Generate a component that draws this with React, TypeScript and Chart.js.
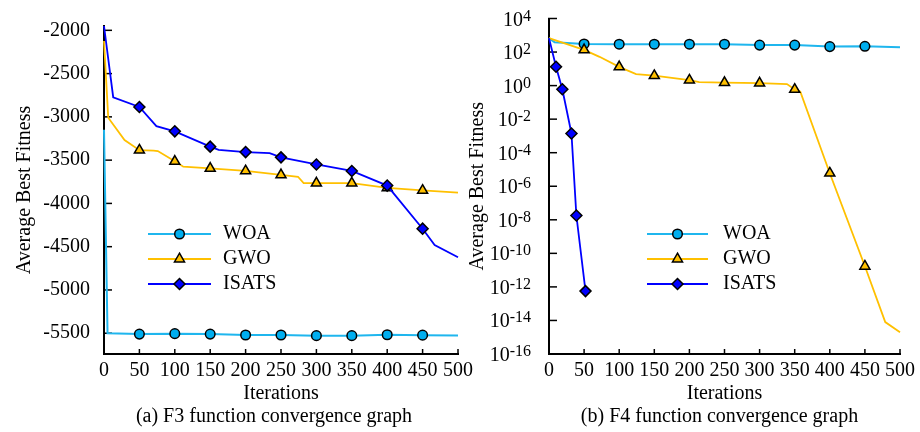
import React, { useEffect, useRef } from "react";
import { Chart, registerables } from "chart.js";

Chart.register(...registerables);

const FONT = "'Liberation Serif', 'Times New Roman', Times, serif";

// ---------- shared ----------
const SERIES = ["WOA", "GWO", "ISATS"];
const X_TICKS = [0, 50, 100, 150, 200, 250, 300, 350, 400, 450, 500];
const MARKER_ITERS = [50, 100, 150, 200, 250, 300, 350, 400, 450];

// ---------- (a) F3 ----------
const F3_Y_TICKS = [-5500, -5000, -4500, -4000, -3500, -3000, -2500, -2000];
const F3_WOA_X = [0, 5, 50, 100, 150, 200, 250, 300, 350, 400, 450, 500];
const F3_WOA_Y = [-3150, -5500, -5510, -5505, -5510, -5520, -5520, -5528, -5528, -5518, -5522, -5525];
const F3_GWO_X = [0, 6, 29, 50, 70, 76, 100, 112, 150, 200, 250, 274, 282, 300, 350, 400, 450, 500];
const F3_GWO_Y = [-2124, -3010, -3268, -3385, -3389, -3395, -3514, -3576, -3595, -3625, -3670, -3692, -3766, -3766, -3766, -3820, -3850, -3876];
const F3_ISATS_X = [0, 13, 50, 74, 100, 150, 162, 200, 234, 250, 300, 350, 400, 450, 467, 500];
const F3_ISATS_Y = [-1950, -2773, -2886, -3107, -3167, -3344, -3381, -3407, -3418, -3468, -3550, -3625, -3794, -4292, -4480, -4622];

// ---------- (b) F4 ----------
const F4_Y_TICK_EXPONENTS = [4, 2, 0, -2, -4, -6, -8, -10, -12, -14, -16];
const F4_WOA_X = [0, 8, 50, 100, 150, 200, 250, 300, 350, 400, 450, 500];
const F4_WOA_Y = [676, 380, 305, 294, 294, 294, 294, 259, 259, 212, 220, 195];
const F4_GWO_X = [0, 50, 72, 100, 124, 150, 200, 214, 250, 300, 339, 350, 358, 400, 450, 479, 500];
const F4_GWO_Y = [676, 135, 52, 13, 4.9, 3.9, 2.1, 1.6, 1.5, 1.4, 1.23, 0.59, 0.43, 6.0e-6, 1.7e-11, 8e-15, 2e-15];
const F4_ISATS_X = [0, 10, 19, 32, 39, 52];
const F4_ISATS_Y = [676, 13.4, 0.61, 1.4e-3, 1.8e-8, 5.6e-13];
const F4_ISATS_MARKERS = [10, 19, 32, 39, 52];

type Style = { line: string; fill: string; shape: string; r: number; width: number; order: number };
const STYLES: Record<string, Style> = {
  WOA: { line: "#1FB6EE", fill: "#00AEEF", shape: "circle", r: 4.8, width: 2, order: 3 },
  GWO: { line: "#FFC000", fill: "#FFC000", shape: "triangle", r: 5.8, width: 1.8, order: 2 },
  ISATS: { line: "#0000FF", fill: "#0000FF", shape: "rectRot", r: 5.5, width: 1.8, order: 1 },
};

function makeDataset(name: string, xs: number[], ys: number[], markers: number[]) {
  const st = STYLES[name];
  const set = new Set(markers);
  return {
    label: name,
    data: xs.map((x, i) => ({ x, y: ys[i] })),
    borderColor: st.line,
    borderWidth: st.width,
    backgroundColor: st.fill,
    pointStyle: st.shape,
    pointRadius: (c: any) => (c.dataIndex !== undefined && set.has(xs[c.dataIndex]) ? st.r : 0),
    pointHoverRadius: 0,
    pointBackgroundColor: st.fill,
    pointBorderColor: "#000",
    pointBorderWidth: 1.5,
    tension: 0,
    order: st.order,
    clip: false as any,
  };
}

function drawMarker(ctx: CanvasRenderingContext2D, shape: string, x: number, y: number, r: number) {
  ctx.beginPath();
  if (shape === "circle") {
    ctx.arc(x, y, r, 0, Math.PI * 2);
  } else if (shape === "triangle") {
    ctx.moveTo(x, y - r);
    ctx.lineTo(x + 0.866 * r, y + 0.5 * r);
    ctx.lineTo(x - 0.866 * r, y + 0.5 * r);
  } else {
    ctx.moveTo(x - r, y);
    ctx.lineTo(x, y - r);
    ctx.lineTo(x + r, y);
    ctx.lineTo(x, y + r);
  }
  ctx.closePath();
  ctx.fill();
  ctx.stroke();
}

const inwardTicks = {
  id: "inwardTicks",
  beforeDatasetsDraw(chart: any) {
    const { ctx, chartArea, scales } = chart;
    ctx.save();
    ctx.strokeStyle = "#000";
    ctx.lineWidth = 1.5;
    scales.y.ticks.forEach((t: any) => {
      const p = scales.y.getPixelForValue(t.value);
      ctx.beginPath();
      ctx.moveTo(chartArea.left - 1, p);
      ctx.lineTo(chartArea.left + 8, p);
      ctx.stroke();
    });
    scales.x.ticks.forEach((t: any) => {
      const p = scales.x.getPixelForValue(t.value);
      ctx.beginPath();
      ctx.moveTo(p, chartArea.bottom + 1);
      ctx.lineTo(p, chartArea.bottom - 5);
      ctx.stroke();
    });
    ctx.restore();
  },
};

const insetLegend = {
  id: "insetLegend",
  afterDatasetsDraw(chart: any, _a: any, opts: any) {
    const { ctx } = chart;
    ctx.save();
    SERIES.forEach((name, i) => {
      const st = STYLES[name];
      const y = opts.y0 + i * opts.dy;
      ctx.strokeStyle = st.line;
      ctx.lineWidth = st.width;
      ctx.beginPath();
      ctx.moveTo(opts.x0, y);
      ctx.lineTo(opts.x1, y);
      ctx.stroke();
      ctx.fillStyle = st.fill;
      ctx.strokeStyle = "#000";
      ctx.lineWidth = 1.5;
      drawMarker(ctx, st.shape, (opts.x0 + opts.x1) / 2, y, st.r);
      ctx.fillStyle = "#000";
      ctx.font = `20px ${FONT}`;
      ctx.textAlign = "left";
      ctx.textBaseline = "middle";
      ctx.fillText(name, opts.textX, y);
    });
    ctx.restore();
  },
};

const caption = {
  id: "caption",
  afterDraw(chart: any, _a: any, opts: any) {
    const { ctx, chartArea } = chart;
    ctx.save();
    ctx.fillStyle = "#000";
    ctx.font = `20px ${FONT}`;
    ctx.textAlign = "center";
    ctx.textBaseline = "middle";
    ctx.fillText(opts.text, (chartArea.left + chartArea.right) / 2 + opts.dx, opts.y);
    ctx.restore();
  },
};

const powerLabels = {
  id: "powerLabels",
  afterDraw(chart: any, _a: any, opts: any) {
    const { ctx, chartArea, scales } = chart;
    if (!opts || !opts.exponents) return;
    ctx.save();
    ctx.fillStyle = "#000";
    ctx.textAlign = "left";
    ctx.textBaseline = "alphabetic";
    const right = chartArea.left - opts.gap;
    opts.exponents.forEach((e: number) => {
      const y = scales.y.getPixelForValue(Math.pow(10, e));
      const sup = String(e);
      ctx.font = `16px ${FONT}`;
      const ws = ctx.measureText(sup).width;
      ctx.font = `20px ${FONT}`;
      const wb = ctx.measureText("10").width;
      const base = y + 7;
      ctx.fillText("10", right - ws - wb, base);
      ctx.font = `16px ${FONT}`;
      ctx.fillText(sup, right - ws, base - 5);
    });
    ctx.restore();
  },
};

function xScale() {
  return {
    type: "linear",
    min: 0,
    max: 500,
    afterBuildTicks: (s: any) => {
      s.ticks = X_TICKS.map((v) => ({ value: v }));
    },
    afterFit: (s: any) => {
      s.height = 78;
    },
    grid: { display: false, drawTicks: false },
    border: { display: true, color: "#000", width: 2 },
    ticks: {
      font: { family: FONT, size: 20 },
      color: "#000",
      padding: 5,
      maxRotation: 0,
      minRotation: 0,
      autoSkip: false,
      callback: (v: any) => String(v),
    },
    title: {
      display: true,
      text: "Iterations",
      color: "#000",
      font: { family: FONT, size: 20, lineHeight: 1 },
      padding: { top: 0, bottom: 28 },
    },
  };
}

export default function App() {
  const ref1 = useRef<HTMLCanvasElement>(null);
  const ref2 = useRef<HTMLCanvasElement>(null);

  useEffect(() => {
    Chart.defaults.font.family = FONT;
    Chart.defaults.color = "#000";

    const c1 = new Chart(ref1.current as HTMLCanvasElement, {
      type: "line",
      data: {
        datasets: [
          makeDataset("WOA", F3_WOA_X, F3_WOA_Y, MARKER_ITERS),
          makeDataset("GWO", F3_GWO_X, F3_GWO_Y, MARKER_ITERS),
          makeDataset("ISATS", F3_ISATS_X, F3_ISATS_Y, MARKER_ITERS),
        ] as any,
      },
      options: {
        animation: false,
        responsive: false,
        maintainAspectRatio: false,
        events: [],
        layout: { padding: { left: 0, right: 462, top: 17, bottom: 0 } },
        scales: {
          x: xScale() as any,
          y: {
            type: "linear",
            min: -5740,
            max: -1950,
            afterBuildTicks: (s: any) => {
              s.ticks = F3_Y_TICKS.map((v) => ({ value: v }));
            },
            afterFit: (s: any) => {
              s.width = 104;
            },
            grid: { display: false, drawTicks: false },
            border: { display: true, color: "#000", width: 2 },
            ticks: {
              font: { family: FONT, size: 20 },
              color: "#000",
              padding: 14,
              callback: (v: any) => String(v),
            },
            title: {
              display: true,
              text: "Average Best Fitness",
              color: "#000",
              font: { family: FONT, size: 20, lineHeight: 1 },
              padding: { top: 15, bottom: 0 },
            },
          } as any,
        },
        plugins: {
          legend: { display: false },
          tooltip: { enabled: false },
          insetLegend: { x0: 148, x1: 211, textX: 223, y0: 234, dy: 25 },
          caption: { text: "(a) F3 function convergence graph", dx: -7, y: 417 },
        } as any,
      },
      plugins: [inwardTicks, insetLegend, caption],
    });

    const c2 = new Chart(ref2.current as HTMLCanvasElement, {
      type: "line",
      data: {
        datasets: [
          makeDataset("WOA", F4_WOA_X, F4_WOA_Y, MARKER_ITERS),
          makeDataset("GWO", F4_GWO_X, F4_GWO_Y, MARKER_ITERS),
          makeDataset("ISATS", F4_ISATS_X, F4_ISATS_Y, F4_ISATS_MARKERS),
        ] as any,
      },
      options: {
        animation: false,
        responsive: false,
        maintainAspectRatio: false,
        events: [],
        layout: { padding: { left: 460, right: 18, top: 18.5, bottom: 0 } },
        scales: {
          x: xScale() as any,
          y: {
            type: "logarithmic",
            min: 1e-16,
            max: 1e4,
            afterBuildTicks: (s: any) => {
              s.ticks = F4_Y_TICK_EXPONENTS.map((e) => ({ value: Math.pow(10, e) }));
            },
            afterFit: (s: any) => {
              s.width = 89;
            },
            grid: { display: false, drawTicks: false },
            border: { display: true, color: "#000", width: 2 },
            ticks: { display: false },
            title: {
              display: true,
              text: "Average Best Fitness",
              color: "#000",
              font: { family: FONT, size: 20, lineHeight: 1 },
              padding: { top: 8, bottom: 0 },
            },
          } as any,
        },
        plugins: {
          legend: { display: false },
          tooltip: { enabled: false },
          insetLegend: { x0: 647, x1: 708, textX: 723, y0: 234, dy: 25 },
          caption: { text: "(b) F4 function convergence graph", dx: -5, y: 417 },
          powerLabels: { exponents: F4_Y_TICK_EXPONENTS, gap: 18 },
        } as any,
      },
      plugins: [inwardTicks, insetLegend, caption, powerLabels],
    });

    return () => {
      c1.destroy();
      c2.destroy();
    };
  }, []);

  return (
    <div style={{ position: "fixed", left: 0, top: 0, width: 920, height: 432, background: "#fff" }}>
      <canvas ref={ref1} width={920} height={432} style={{ position: "absolute", left: 0, top: 0 }} />
      <canvas ref={ref2} width={920} height={432} style={{ position: "absolute", left: 0, top: 0 }} />
    </div>
  );
}
